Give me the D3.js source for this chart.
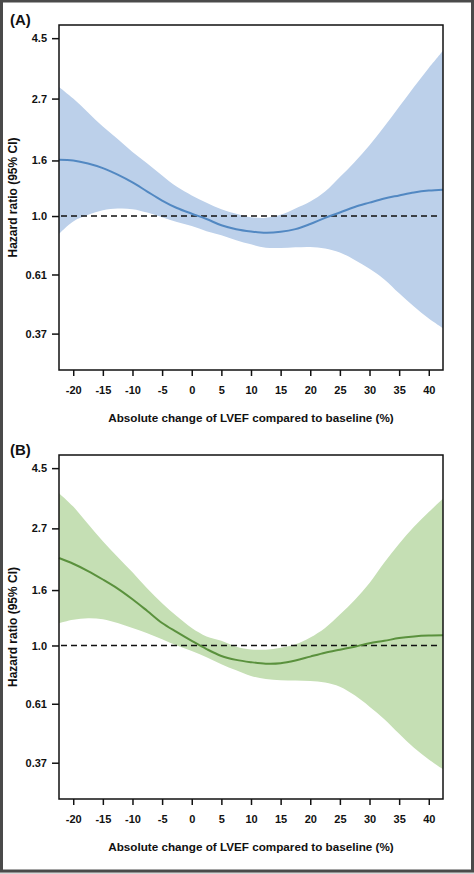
<!DOCTYPE html>
<html>
<head>
<meta charset="utf-8">
<script src="https://cdn.jsdelivr.net/npm/d3@7"></script>
<style>
  html, body { margin: 0; padding: 0; background: #fff; }
  svg { display: block; }
  text { font-family: "Liberation Sans", Arial, sans-serif; font-weight: bold; fill: #111; }
</style>
</head>
<body>
<svg id="chart" width="474" height="874"></svg>
<script>
// ---------- data ----------
const xValues = [-22.4, -20, -17.5, -15, -12.5, -10, -7.5, -5, -2.5, 0, 2.5, 5, 7.5, 10, 12.5, 15, 17.5, 20, 22.5, 25, 27.5, 30, 32.5, 35, 37.5, 40, 42.4];

const hrA    = [1.61, 1.60, 1.56, 1.50, 1.42, 1.33, 1.23, 1.14, 1.07, 1.02, 0.975, 0.925, 0.895, 0.878, 0.868, 0.875, 0.895, 0.935, 0.985, 1.03, 1.08, 1.12, 1.16, 1.19, 1.22, 1.24, 1.25];
const upperA = [2.98, 2.70, 2.40, 2.13, 1.92, 1.72, 1.56, 1.41, 1.28, 1.19, 1.12, 1.06, 1.02, 0.99, 0.985, 1.01, 1.065, 1.13, 1.23, 1.39, 1.58, 1.82, 2.13, 2.52, 2.98, 3.50, 4.05];
const lowerA = [0.86, 0.955, 1.01, 1.05, 1.065, 1.06, 1.03, 0.99, 0.95, 0.92, 0.88, 0.85, 0.815, 0.787, 0.765, 0.763, 0.768, 0.77, 0.76, 0.735, 0.69, 0.64, 0.585, 0.52, 0.465, 0.42, 0.387];

const hrB    = [2.10, 2.00, 1.88, 1.75, 1.62, 1.48, 1.34, 1.21, 1.12, 1.04, 0.97, 0.915, 0.885, 0.868, 0.857, 0.86, 0.88, 0.91, 0.94, 0.965, 0.99, 1.02, 1.04, 1.065, 1.08, 1.088, 1.09];
const upperB = [3.64, 3.25, 2.80, 2.42, 2.12, 1.86, 1.62, 1.43, 1.28, 1.16, 1.08, 1.04, 0.99, 0.967, 0.965, 0.98, 1.01, 1.07, 1.16, 1.30, 1.47, 1.70, 2.02, 2.37, 2.74, 3.10, 3.48];
const lowerB = [1.21, 1.245, 1.26, 1.25, 1.21, 1.16, 1.11, 1.055, 1.0, 0.955, 0.905, 0.853, 0.81, 0.772, 0.752, 0.745, 0.743, 0.74, 0.73, 0.705, 0.655, 0.595, 0.535, 0.473, 0.42, 0.38, 0.35];

const xTicks = [-20, -15, -10, -5, 0, 5, 10, 15, 20, 25, 30, 35, 40];
const yTicks = [0.37, 0.61, 1.0, 1.6, 2.7, 4.5];
const yTickLabels = ["0.37", "0.61", "1.0", "1.6", "2.7", "4.5"];
const xDomain = [-22.4, 42.4];
const yDomain = [0.272, 5.03];
const refValue = 1.0;

const panels = [
  { label: "(A)", hr: hrA, upper: upperA, lower: lowerA, top: 25, bottom: 370, fill: "#bcd0ea", line: "#5288c2" },
  { label: "(B)", hr: hrB, upper: upperB, lower: lowerB, top: 455, bottom: 799, fill: "#c5dfb4", line: "#5a913d" }
];

const xTitle = "Absolute change of LVEF compared to baseline (%)";
const yTitle = "Hazard ratio (95% CI)";

// ---------- drawing ----------
const svg = d3.select("#chart");
svg.append("rect").attr("x", 0).attr("y", 0).attr("width", 474).attr("height", 874).attr("fill", "#fff");
svg.append("rect").attr("x", 0).attr("y", 872).attr("width", 474).attr("height", 2).attr("fill", "#d8d8d8");
svg.append("rect").attr("x", 1.5).attr("y", 1).attr("width", 471).attr("height", 870)
  .attr("fill", "none").attr("stroke", "#4a4a4a").attr("stroke-width", 3);

const left = 59, right = 443;
const x = d3.scaleLinear().domain(xDomain).range([left, right]);
const curve = d3.curveCatmullRom.alpha(0.5);

panels.forEach(p => {
  const y = d3.scaleLog().domain(yDomain).range([p.bottom, p.top]);
  const g = svg.append("g");
  const pts = xValues.map((v, i) => ({ x: v, hr: p.hr[i], lo: p.lower[i], hi: p.upper[i] }));

  g.append("path").datum(pts)
    .attr("fill", p.fill)
    .attr("d", d3.area().curve(curve)
      .x(d => x(d.x)).y0(d => y(d.lo)).y1(d => y(d.hi)));

  g.append("line")
    .attr("x1", left + 2).attr("x2", right - 2)
    .attr("y1", y(refValue)).attr("y2", y(refValue))
    .attr("stroke", "#111").attr("stroke-width", 1.5).attr("stroke-dasharray", "6,4");

  g.append("path").datum(pts)
    .attr("fill", "none").attr("stroke", p.line).attr("stroke-width", 2)
    .attr("d", d3.line().curve(curve).x(d => x(d.x)).y(d => y(d.hr)));

  // box
  g.append("rect").attr("x", left).attr("y", p.top)
    .attr("width", right - left).attr("height", p.bottom - p.top)
    .attr("fill", "none").attr("stroke", "#111").attr("stroke-width", 1.5);

  // x axis
  const xa = g.append("g").attr("transform", `translate(0,${p.bottom})`)
    .call(d3.axisBottom(x).tickValues(xTicks).tickSize(6).tickPadding(10).tickSizeOuter(0).tickFormat(d => d));
  xa.select(".domain").remove();
  xa.selectAll("line").attr("stroke", "#111").attr("stroke-width", 1.5);
  xa.selectAll("text").attr("font-size", 11).attr("font-family", "Liberation Sans, Arial, sans-serif").attr("font-weight", "bold").attr("fill", "#111");

  // y axis
  const ya = g.append("g").attr("transform", `translate(${left},0)`)
    .call(d3.axisLeft(y).tickValues(yTicks).tickSize(7).tickPadding(5).tickSizeOuter(0)
      .tickFormat((d, i) => yTickLabels[i]));
  ya.select(".domain").remove();
  ya.selectAll("line").attr("stroke", "#111").attr("stroke-width", 1.5);
  ya.selectAll("text").attr("font-size", 11).attr("font-family", "Liberation Sans, Arial, sans-serif").attr("font-weight", "bold").attr("fill", "#111");

  // titles
  g.append("text").attr("x", (left + right) / 2).attr("y", p.bottom + 52)
    .attr("text-anchor", "middle").attr("font-size", 11.7).text(xTitle);
  g.append("text")
    .attr("transform", `translate(17,${(p.top + p.bottom) / 2}) rotate(-90)`)
    .attr("text-anchor", "middle").attr("font-size", 12).text(yTitle);
  g.append("text").attr("x", 10).attr("y", p.top - 0.5)
    .attr("font-size", 15).text(p.label);
});
</script>
</body>
</html>
